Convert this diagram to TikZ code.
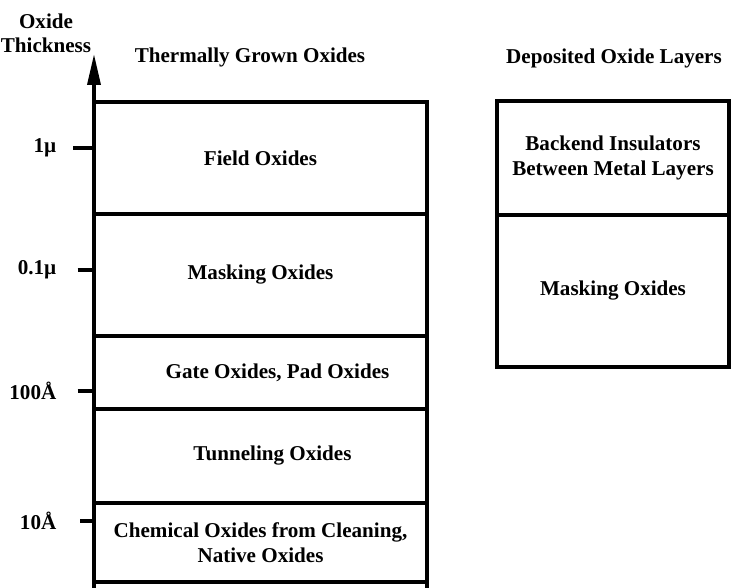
\documentclass[tikz,border=0pt]{standalone}
\usepackage{fontspec}
\setmainfont{Liberation Serif}
\usetikzlibrary{arrows.meta}
\tikzstyle{layer} = [draw, line width=2pt, rectangle, inner sep=0pt, outer sep=0pt, align=center, font=\bfseries\fontsize{12}{14}\selectfont]
\tikzstyle{lbl} = [font=\bfseries\fontsize{12}{14}\selectfont, align=center]
\tikzstyle{tick} = [line width=2.2pt]

\begin{document}
\begin{tikzpicture}
      \useasboundingbox (0,0) rectangle (15.04,11.76);
      % thermally grown oxides
      \node [layer, minimum width=6.66cm, minimum height=2.24cm] (field) at (5.21,8.60) {Field Oxides};
      \node [layer, minimum width=6.66cm, minimum height=2.44cm] (mask) at (5.21,6.26) {Masking Oxides};
      \node [layer, minimum width=6.66cm, minimum height=1.46cm] (gate) at (5.21,4.31) {\hspace*{0.68cm}Gate Oxides, Pad Oxides};
      \node [layer, minimum width=6.66cm, minimum height=1.88cm] (tunnel) at (5.21,2.64) {\hspace*{0.48cm}Tunneling Oxides};
      \node [layer, minimum width=6.66cm, minimum height=1.58cm] (chem) at (5.21,0.91) {Chemical Oxides from Cleaning,\\Native Oxides};
      \draw [line width=2pt] (chem.south east) -- ++(0,-0.12);
      % deposited oxide layers
      \node [layer, minimum width=4.64cm, minimum height=2.28cm] (backend) at (12.26,8.60) {Backend Insulators\\Between Metal Layers};
      \node [layer, minimum width=4.64cm, minimum height=3.04cm] (dmask) at (12.26,5.94) {Masking Oxides};
      % axis
      \coordinate (base) at (1.88,0);
      \coordinate (top) at (1.88,10.68);
      \draw [line width=2pt, -{Triangle[length=0.62cm, width=0.26cm]}] (base) -- (top);
      \node [lbl] (axis) at (0.92,11.09) {Oxide\\Thickness};
      \node [lbl] (tgo) at (5.0,10.62) {Thermally Grown Oxides};
      \node [lbl] (dol) at (12.28,10.60) {Deposited Oxide Layers};
      % ticks
      \draw [tick] (1.46,8.80) -- (1.88,8.80);
      \draw [tick] (1.55,6.36) -- (1.88,6.36);
      \draw [tick] (1.55,3.94) -- (1.88,3.94);
      \draw [tick] (1.60,1.34) -- (1.88,1.34);
      \node [lbl, anchor=east] (t1) at (1.25,8.80) {1µ};
      \node [lbl, anchor=east] (t2) at (1.25,6.36) {0.1µ};
      \node [lbl, anchor=east] (t3) at (1.25,3.94) {100Å};
      \node [lbl, anchor=east] (t4) at (1.25,1.34) {10Å};
\end{tikzpicture}
\end{document}
